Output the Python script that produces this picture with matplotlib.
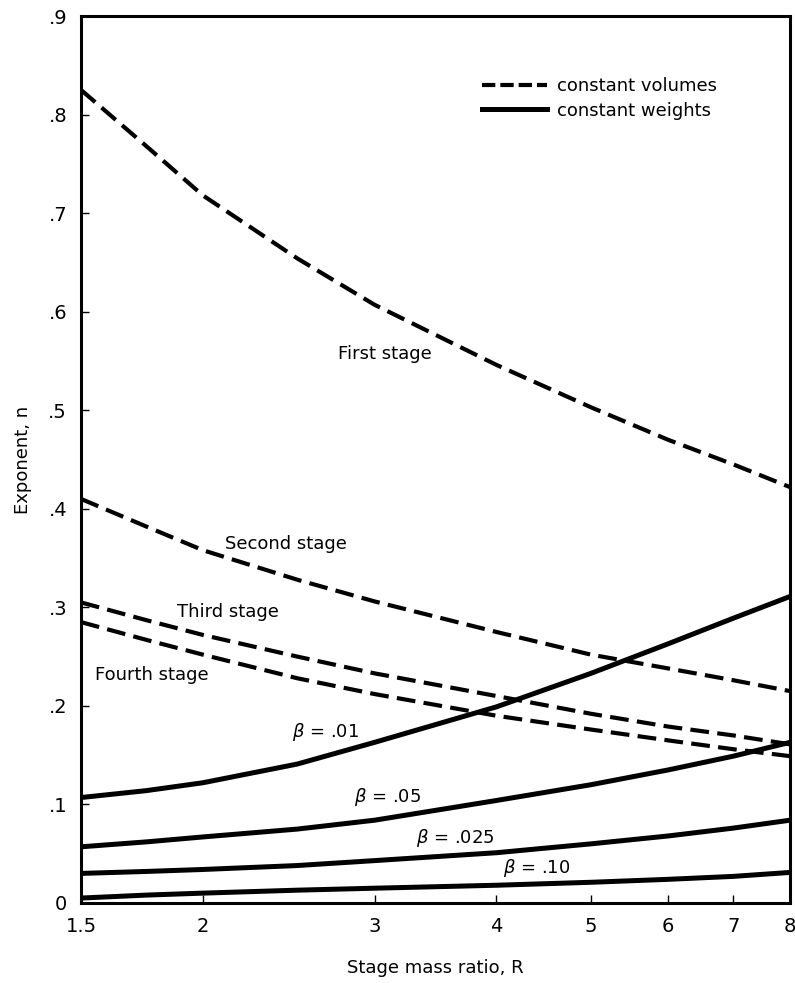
import numpy as np
import matplotlib
matplotlib.use("Agg")
import matplotlib.pyplot as plt
from matplotlib.lines import Line2D
from matplotlib.ticker import FixedLocator, NullLocator

plt.rcParams['font.family'] = ['DejaVu Sans']

# stage mass ratio R
R = [1.5, 1.75, 2, 2.5, 3, 4, 5, 6, 7, 8]

# constant volumes (dashed)
first_stage = [0.825, 0.768, 0.718, 0.654, 0.607, 0.546, 0.503, 0.470, 0.445, 0.422]
second_stage = [0.410, 0.382, 0.358, 0.328, 0.306, 0.275, 0.252, 0.238, 0.226, 0.215]
third_stage = [0.305, 0.287, 0.272, 0.250, 0.233, 0.210, 0.192, 0.179, 0.170, 0.161]
fourth_stage = [0.285, 0.267, 0.252, 0.228, 0.212, 0.190, 0.176, 0.165, 0.156, 0.149]

# constant weights (solid)
beta_01 = [0.107, 0.114, 0.122, 0.141, 0.163, 0.199, 0.233, 0.263, 0.289, 0.311]
beta_05 = [0.057, 0.062, 0.067, 0.075, 0.084, 0.104, 0.120, 0.135, 0.149, 0.163]
beta_025 = [0.030, 0.032, 0.034, 0.038, 0.043, 0.051, 0.060, 0.068, 0.076, 0.084]
beta_10 = [0.005, 0.008, 0.010, 0.013, 0.015, 0.018, 0.021, 0.024, 0.027, 0.031]

x_ticks = [1.5, 2, 3, 4, 5, 6, 7, 8]
x_labels = ['1.5', '2', '3', '4', '5', '6', '7', '8']
y_ticks = [0, 0.1, 0.2, 0.3, 0.4, 0.5, 0.6, 0.7, 0.8, 0.9]
y_labels = ['0', '.1', '.2', '.3', '.4', '.5', '.6', '.7', '.8', '.9']

fig = plt.figure(figsize=(7.95, 9.83), dpi=100)
ax = fig.add_axes([0.1019, 0.0814, 0.8918, 0.9023])

dash = (0, (4.5, 2.0))
for ys in [first_stage, second_stage, third_stage, fourth_stage]:
    ax.plot(R, ys, color='black', lw=3.0, linestyle=dash)
for ys in [beta_01, beta_05, beta_025, beta_10]:
    ax.plot(R, ys, color='black', lw=3.6, solid_capstyle='butt')

ax.set_xscale('log')
ax.set_xlim(1.5, 8)
ax.set_ylim(0, 0.9)
ax.xaxis.set_major_locator(FixedLocator(x_ticks))
ax.xaxis.set_minor_locator(NullLocator())
ax.set_xticklabels(x_labels)
ax.set_yticks(y_ticks)
ax.set_yticklabels(y_labels)
ax.tick_params(direction='in', length=6, width=1, labelsize=14, pad=10)

for s in ax.spines.values():
    s.set_linewidth(2.2)

ax.set_xlabel('Stage mass ratio, R', fontsize=13, labelpad=17)
ax.set_ylabel('Exponent, n', fontsize=13, labelpad=12)

tk = dict(fontsize=13, va='center', ha='left')
ax.text(2.75, 0.557, 'First stage', **tk)
ax.text(2.108, 0.364, 'Second stage', **tk)
ax.text(1.88, 0.295, 'Third stage', **tk)
ax.text(1.55, 0.231, 'Fourth stage', **tk)
ax.text(2.47, 0.173, r'$\beta$ = .01', **tk)
ax.text(2.86, 0.108, r'$\beta$ = .05', **tk)
ax.text(3.31, 0.066, r'$\beta$ = .025', **tk)
ax.text(4.06, 0.035, r'$\beta$ = .10', **tk)

handles = [Line2D([], [], color='black', lw=3.0, linestyle=(0, (3.2, 1.2))),
           Line2D([], [], color='black', lw=3.6)]
ax.legend(handles, ['constant volumes', 'constant weights'],
          loc='upper left', bbox_to_anchor=(0.565, 0.931), frameon=False,
          fontsize=13, handlelength=3.6, handletextpad=0.6, labelspacing=0.35,
          borderpad=0, borderaxespad=0)

fig.savefig('out.png', dpi=100)
